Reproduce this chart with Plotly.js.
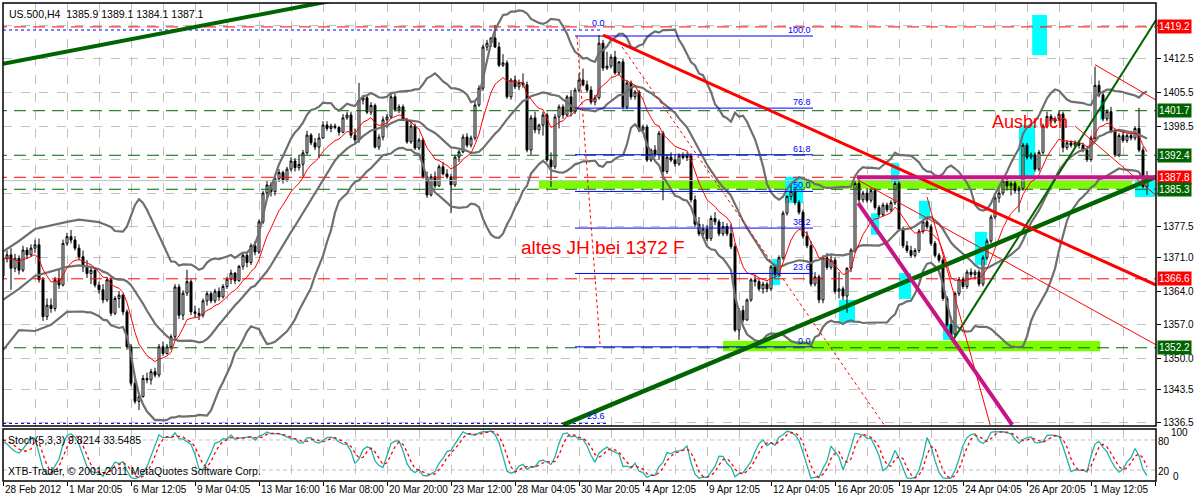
<!DOCTYPE html>
<html><head><meta charset="utf-8">
<script src="https://cdn.plot.ly/plotly-3.0.1.min.js"></script>
<style>html,body{margin:0;padding:0;background:#fff}#chart{width:1194px;height:498px}</style>
</head><body><div id="chart"></div>
<script>
// ---------------- DATA ----------------
const opens=[1367.2,1370.8,1371.6,1368.8,1370.9,1368.4,1372.6,1371.6,1373.0,1373.7,
1366.4,1358.7,1361.1,1360.4,1366.4,1365.3,1374.0,1375.4,1374.7,1373.0,
1371.2,1369.1,1367.7,1368.4,1365.3,1364.3,1362.2,1366.4,1359.4,1362.5,
1363.2,1359.7,1352.4,1344.8,1341.0,1342.0,1345.8,1345.5,1347.2,1346.5,
1352.4,1351.0,1352.4,1354.5,1364.9,1359.0,1363.6,1366.0,1359.7,1359.4,
1359.0,1362.0,1363.5,1362.0,1364.0,1362.8,1365.0,1366.5,1367.8,1366.2,
1369.2,1371.5,1370.0,1373.5,1372.2,1378.5,1384.5,1386.2,1384.8,1387.5,
1388.8,1387.2,1389.5,1391.2,1389.8,1390.5,1392.9,1396.6,1395.0,1394.1,
1396.0,1398.7,1398.0,1398.5,1398.2,1397.2,1400.2,1400.8,1396.6,1395.6,
1403.9,1404.4,1401.4,1402.8,1394.1,1396.2,1399.8,1400.4,1404.6,1401.9,
1402.5,1399.8,1395.2,1398.5,1393.9,1395.6,1387.9,1384.1,1387.9,1386.0,
1390.0,1388.5,1387.9,1386.2,1392.0,1393.1,1396.2,1394.5,1396.0,1402.9,
1406.4,1415.0,1415.8,1416.9,1415.0,1411.2,1411.7,1404.6,1408.1,1406.7,
1407.5,1407.1,1393.5,1400.2,1397.7,1398.7,1400.8,1391.4,1390.0,1400.4,
1402.5,1400.8,1404.6,1401.5,1406.0,1408.1,1407.1,1406.0,1403.5,1404.4,
1415.8,1410.6,1411.0,1412.9,1409.6,1411.9,1402.5,1407.5,1404.6,1405.6,
1397.7,1398.3,1391.4,1393.5,1392.5,1397.0,1389.0,1392.0,1391.4,1390.6,
1392.3,1391.9,1392.3,1383.1,1378.0,1376.0,1377.0,1375.0,1379.2,1378.5,
1376.0,1377.5,1376.0,1373.3,1355.9,1360.0,1358.0,1362.2,1366.4,1366.0,
1364.5,1365.5,1364.5,1369.1,1367.5,1371.0,1380.3,1383.8,1384.8,1382.5,
1380.5,1375.5,1373.5,1365.5,1367.0,1362.2,1371.0,1369.0,1370.5,1364.0,
1364.5,1363.0,1368.8,1372.6,1386.5,1383.1,1384.5,1383.0,1385.0,1381.5,
1380.0,1382.0,1381.0,1382.5,1386.5,1377.0,1373.5,1372.5,1371.5,1372.5,
1376.5,1378.5,1377.5,1374.0,1371.5,1370.5,1362.5,1357.0,1355.0,1363.5,
1366.5,1365.0,1368.0,1367.5,1368.0,1365.5,1371.0,1374.5,1379.5,1383.5,
1384.5,1387.0,1386.0,1386.5,1385.0,1385.5,1394.5,1392.0,1392.5,1389.5,
1393.0,1398.5,1400.5,1399.5,1400.0,1401.0,1394.0,1395.0,1394.5,1395.0,
1394.5,1393.5,1391.5,1396.0,1407.0,1405.0,1400.0,1401.5,1397.5,1392.5,
1396.5,1395.5,1396.5,1396.0,1398.0,1393.5,1385.9];
const highs=[1372.0,1372.5,1373.0,1371.8,1371.5,1373.5,1373.2,1373.8,1374.8,1375.0,
1367.0,1362.5,1362.5,1367.0,1368.5,1374.8,1376.2,1376.8,1375.5,1373.8,
1372.5,1370.5,1369.0,1368.8,1366.0,1365.5,1367.0,1367.0,1363.0,1364.0,
1363.5,1360.2,1353.0,1346.0,1342.8,1346.5,1347.0,1347.8,1348.0,1353.0,
1353.5,1353.0,1355.0,1365.5,1365.5,1364.2,1368.5,1366.5,1361.0,1360.5,
1362.5,1364.0,1364.0,1364.5,1364.8,1365.5,1367.0,1368.5,1368.0,1369.5,
1372.0,1372.0,1374.0,1374.5,1379.0,1385.0,1387.0,1386.8,1388.0,1389.5,
1389.2,1390.0,1392.0,1391.8,1392.5,1393.5,1397.5,1397.0,1396.0,1397.0,
1399.5,1399.5,1399.0,1399.0,1398.5,1401.0,1401.5,1401.5,1398.0,1407.5,
1405.0,1404.8,1403.5,1403.2,1396.8,1400.5,1401.0,1405.5,1405.2,1403.0,
1403.0,1400.2,1399.8,1399.0,1396.0,1396.0,1389.0,1388.5,1389.0,1390.5,
1391.0,1389.5,1388.5,1392.5,1393.5,1396.8,1397.0,1396.5,1403.5,1407.0,
1415.5,1416.5,1417.0,1419.6,1416.0,1413.5,1412.2,1408.5,1409.0,1408.2,
1409.5,1407.8,1400.8,1401.5,1399.0,1401.5,1401.2,1393.0,1401.0,1403.0,
1403.0,1405.0,1406.0,1406.5,1409.5,1410.5,1408.0,1406.8,1405.0,1417.5,
1416.5,1414.0,1413.5,1414.2,1412.0,1412.5,1408.0,1408.0,1406.0,1406.0,
1398.8,1398.8,1393.8,1394.5,1397.5,1397.5,1392.5,1393.0,1392.5,1392.8,
1393.0,1393.0,1392.8,1384.0,1379.5,1378.0,1377.8,1379.8,1380.5,1379.0,
1378.5,1378.2,1378.0,1374.0,1360.5,1361.0,1362.5,1366.8,1367.5,1366.5,
1366.0,1366.0,1369.5,1369.5,1371.5,1380.8,1384.0,1386.5,1385.5,1383.0,
1381.0,1376.5,1374.5,1368.0,1367.5,1371.5,1372.0,1371.5,1371.0,1368.0,
1365.0,1369.0,1373.0,1387.0,1387.8,1385.0,1385.5,1385.5,1385.5,1382.0,
1382.5,1382.5,1383.0,1387.0,1387.0,1377.5,1374.5,1373.5,1373.0,1377.0,
1379.0,1379.5,1378.0,1374.5,1372.0,1371.0,1363.0,1358.7,1364.0,1367.0,
1367.0,1368.5,1368.8,1368.5,1368.5,1371.5,1375.0,1380.0,1384.0,1385.5,
1387.5,1387.5,1387.0,1387.0,1386.0,1395.0,1395.0,1393.0,1393.0,1393.5,
1399.0,1401.5,1401.0,1400.5,1401.8,1401.5,1395.5,1395.5,1395.5,1395.5,
1395.0,1394.0,1396.5,1410.9,1408.0,1405.5,1402.0,1402.5,1398.0,1397.0,
1397.5,1397.0,1397.5,1398.5,1402.3,1394.2,1389.1];
const lows=[1366.4,1370.0,1364.3,1368.0,1367.5,1368.0,1370.8,1371.2,1372.0,1365.8,
1357.8,1358.0,1359.5,1359.8,1364.5,1365.0,1373.5,1374.0,1372.5,1370.5,
1368.0,1366.8,1365.5,1364.8,1363.5,1361.5,1361.8,1358.8,1359.0,1360.5,
1359.0,1351.8,1344.2,1340.5,1339.2,1341.8,1344.8,1344.5,1346.0,1346.0,
1350.5,1350.8,1351.8,1354.0,1358.2,1358.0,1363.0,1359.0,1358.5,1358.0,
1358.5,1361.0,1361.5,1361.5,1362.0,1362.5,1364.5,1365.5,1365.5,1366.0,
1368.5,1369.0,1369.5,1371.5,1371.8,1378.0,1383.5,1383.8,1384.0,1386.8,
1386.5,1386.8,1389.0,1389.0,1389.2,1388.0,1392.5,1394.5,1393.5,1391.8,
1395.8,1397.5,1397.2,1397.8,1396.5,1397.0,1399.8,1396.0,1394.8,1395.0,
1403.0,1401.0,1400.8,1393.8,1393.5,1395.5,1398.0,1400.0,1401.5,1401.2,
1399.5,1394.8,1394.8,1393.5,1393.5,1387.5,1383.5,1383.8,1385.5,1385.8,
1388.2,1387.5,1380.3,1385.8,1391.0,1392.8,1394.0,1394.0,1395.5,1402.5,
1405.8,1414.2,1415.0,1414.8,1410.8,1410.8,1404.2,1404.0,1406.2,1406.0,
1406.5,1393.0,1392.5,1397.0,1396.8,1396.5,1391.0,1385.8,1389.5,1398.0,
1400.0,1400.5,1400.5,1401.0,1405.5,1406.8,1405.5,1403.0,1402.8,1404.0,
1410.0,1410.2,1410.5,1409.2,1409.0,1402.0,1402.0,1404.0,1404.0,1397.2,
1397.0,1391.0,1391.0,1392.0,1391.5,1383.0,1388.5,1391.0,1390.0,1390.2,
1391.5,1391.2,1382.5,1377.5,1375.5,1375.0,1374.5,1374.5,1377.8,1375.5,
1375.5,1375.5,1372.8,1355.5,1353.8,1357.5,1357.8,1361.8,1365.0,1364.0,
1363.5,1363.8,1364.0,1367.0,1367.0,1370.5,1379.8,1383.0,1382.0,1380.0,
1375.0,1373.0,1365.0,1365.0,1361.5,1361.5,1368.5,1368.5,1363.5,1362.5,
1362.2,1359.5,1368.0,1372.0,1382.5,1382.5,1382.5,1382.5,1381.0,1379.5,
1379.5,1380.5,1380.5,1382.0,1376.5,1373.0,1372.0,1371.0,1371.0,1372.0,
1376.0,1377.0,1373.5,1371.0,1370.0,1362.0,1356.5,1353.8,1354.5,1363.0,
1364.5,1364.5,1366.8,1366.5,1365.0,1365.0,1370.5,1374.0,1379.0,1382.5,
1384.0,1385.0,1384.0,1384.5,1380.5,1385.0,1391.5,1391.5,1389.0,1389.0,
1392.5,1398.0,1399.0,1399.0,1399.5,1393.0,1393.5,1394.0,1394.0,1393.8,
1393.0,1391.0,1391.0,1395.5,1404.5,1399.5,1399.5,1397.0,1392.0,1392.0,
1395.0,1395.0,1395.5,1395.5,1393.0,1385.5,1384.1];
const closes=[1370.8,1371.6,1368.8,1370.9,1368.4,1372.6,1371.6,1373.0,1373.7,1366.4,
1358.7,1361.1,1360.4,1366.4,1365.3,1374.0,1375.4,1374.7,1373.0,1371.2,
1369.1,1367.7,1368.4,1365.3,1364.3,1362.2,1366.4,1359.4,1362.5,1363.2,
1359.7,1352.4,1344.8,1341.0,1342.0,1345.8,1345.5,1347.2,1346.5,1352.4,
1351.0,1352.4,1354.5,1364.9,1359.0,1363.6,1366.0,1359.7,1359.4,1359.0,
1362.0,1363.5,1362.0,1364.0,1362.8,1365.0,1366.5,1367.8,1366.2,1369.2,
1371.5,1370.0,1373.5,1372.2,1378.5,1384.5,1386.2,1384.8,1387.5,1388.8,
1387.2,1389.5,1391.2,1389.8,1390.5,1392.9,1396.6,1395.0,1394.1,1396.0,
1398.7,1398.0,1398.5,1398.2,1397.2,1400.2,1400.8,1396.6,1395.6,1403.9,
1404.4,1401.4,1402.8,1394.1,1396.2,1399.8,1400.4,1404.6,1401.9,1402.5,
1399.8,1395.2,1398.5,1393.9,1395.6,1387.9,1384.1,1387.9,1386.0,1390.0,
1388.5,1387.9,1386.2,1392.0,1393.1,1396.2,1394.5,1396.0,1402.9,1406.4,
1415.0,1415.8,1416.9,1415.0,1411.2,1411.7,1404.6,1408.1,1406.7,1407.5,
1407.1,1393.5,1400.2,1397.7,1398.7,1400.8,1391.4,1390.0,1400.4,1402.5,
1400.8,1404.6,1401.5,1406.0,1408.1,1407.1,1406.0,1403.5,1404.4,1415.8,
1410.6,1411.0,1412.9,1409.6,1411.9,1402.5,1407.5,1404.6,1405.6,1397.7,
1398.3,1391.4,1393.5,1392.5,1397.0,1389.0,1392.0,1391.4,1390.6,1392.3,
1391.9,1392.3,1383.1,1378.0,1376.0,1377.0,1375.0,1379.2,1378.5,1376.0,
1377.5,1376.0,1373.3,1355.9,1360.0,1358.0,1362.2,1366.4,1366.0,1364.5,
1365.5,1364.5,1369.1,1367.5,1371.0,1380.3,1383.8,1384.8,1382.5,1380.5,
1375.5,1373.5,1365.5,1367.0,1362.2,1371.0,1369.0,1370.5,1364.0,1364.5,
1363.0,1368.8,1372.6,1386.5,1383.1,1384.5,1383.0,1385.0,1381.5,1380.0,
1382.0,1381.0,1382.5,1386.5,1377.0,1373.5,1372.5,1371.5,1372.5,1376.5,
1378.5,1377.5,1374.0,1371.5,1370.5,1362.5,1357.0,1355.0,1363.5,1366.5,
1365.0,1368.0,1367.5,1368.0,1365.5,1371.0,1374.5,1379.5,1383.5,1384.5,
1387.0,1386.0,1386.5,1385.0,1385.5,1394.5,1392.0,1392.5,1389.5,1393.0,
1398.5,1400.5,1399.5,1400.0,1401.0,1394.0,1395.0,1394.5,1395.0,1394.5,
1393.5,1391.5,1396.0,1407.0,1405.0,1400.0,1401.5,1397.5,1392.5,1396.5,
1395.5,1396.5,1396.0,1398.0,1393.5,1385.9,1387.1];

// indicator values at the left edge (before enough history)
const earlyBars=[0,4,8,12,16];
const earlyUpper=[1372.3,1374.5,1377.0,1377.8,1378.5];
const earlyMiddle=[1362.2,1364.5,1367.2,1368.2,1369.1];
const earlyLower=[1351.7,1355.9,1355.7,1357.0,1359.7];
const earlyStochBars=[0,1,2,3,4,5];
const earlyStochK=[77,72,64,57,54,62];
const earlyStochDBars=[0,1,2,3,4,5,6,7];
const earlyStochD=[80,78,74,68,62,58,58,62];

const dateLabels=["28 Feb 2012","1 Mar 20:05","6 Mar 12:05","9 Mar 04:05","13 Mar 16:00","16 Mar 08:00",
"20 Mar 20:00","23 Mar 12:00","28 Mar 04:05","30 Mar 20:05","4 Apr 12:05","9 Apr 12:05","12 Apr 04:05",
"16 Apr 20:05","19 Apr 12:05","24 Apr 04:05","26 Apr 20:05","1 May 12:05"];
const priceTicks=[1419.5,1412.5,1405.5,1398.5,1391.5,1384.5,1377.5,1371.0,1364.0,1357.0,1350.0,1343.5,1336.5];
const hiddenTicks=[1419.5,1391.5,1384.5];   // covered by the level boxes in the picture
const stochTicks=[0,20,80,100];
const stochTickLabels=["0","20","80","100"];

// horizontal levels
const levelPrices=[1419.2,1401.7,1392.4,1387.8,1385.3,1366.6,1352.2];
const levelKinds=["r","g","g","r","g","r","g"];

// fibonacci
const fibRatios=[0,23.6,38.2,50.0,61.8,76.8,100];
const fibLabels=["0.0","23.6","38.2","50.0","61.8","76.8","100.0"];
const fibLow=1352.4, fibHigh=1417.3, fibFrom=143, fibTo=202.5;

// trend lines [x0,y0,x1,y1] (bar index, price)
const greenThick1=[0,1411.5,85,1425.1];
const greenThick2=[140,1336.1,288.3,1387.9];
const greenThin=[237.5,1353.8,288.3,1420.7];
const redThick=[150,1417.5,288.3,1365.3];
const redThin1=[213.8,1387.2,288.3,1352.8];
const redThin2=[231,1383.7,246.8,1336.1];
const redThin3=[273,1411.3,288.3,1403.9];
const redThin4=[268,1398.5,288.3,1384.0];
const redDot1=[143.5,1417.3,149.3,1352.4];
const redDot2=[154.8,1415.0,220.3,1336.1];
const magentaFlat=[213.5,1387.8,288.3,1387.8];
const magentaDiag=[213.8,1382.4,252.3,1336.1];
const blueDotTop=[0,1418.55,150,1418.55];
const blueDotBottom=[0,1336.4,151,1336.4];

// rectangles [x0,x1,y0,y1]
const greenRects=[[134,282.3,1385.4,1387.2],[180,274.3,1351.5,1353.6]];
const cyanRects=[[257.3,261,1413.3,1421.7],[195.5,200,1382.4,1387.9],[192.3,194.3,1365.3,1370.7],
[209,213,1357.4,1362.2],[222,224,1386.6,1390.8],[217,219,1375.8,1380.3],[224,227,1362.4,1367.8],
[229,231.8,1379.1,1382.9],[235,237.5,1353.8,1357.2],[243,246,1369.5,1376.4],[254,258,1387.9,1398.7],
[274.3,275.2,1399.8,1403.9],[283,288,1383.7,1387.2]];

// ---------------- build ----------------
const N=closes.length;
const xs=closes.map((_,i)=>i);
// Bollinger(20,2), MA and Stochastic(5,3,3) computed from the OHLC above
const bbU=[],bbM=[],bbL=[];
for(let i=0;i<N;i++){
  if(i<19){bbU.push(null);bbM.push(null);bbL.push(null);continue;}
  const w=closes.slice(i-19,i+1);const m=w.reduce((a,b)=>a+b,0)/20;
  const sd=Math.sqrt(w.reduce((a,b)=>a+(b-m)*(b-m),0)/20);
  bbU.push(m+2*sd);bbM.push(m);bbL.push(m-2*sd);
}
const ma=[];{let e=closes[0];const k=2/11;for(let i=0;i<N;i++){e=i?closes[i]*k+e*(1-k):e;ma.push(e);}}
const raw=[];
for(let i=0;i<N;i++){ if(i<4){raw.push(null);continue;}
  let hh=-1e9,ll=1e9;for(let j=i-4;j<=i;j++){hh=Math.max(hh,highs[j]);ll=Math.min(ll,lows[j]);}
  raw.push([closes[i]-ll,hh-ll]);}
const stK=[];for(let i=0;i<N;i++){ if(i<6){stK.push(null);continue;}
  let a=0,b=0;for(let j=i-2;j<=i;j++){a+=raw[j][0];b+=raw[j][1];} stK.push(b?100*a/b:50);}
const stD=[];for(let i=0;i<N;i++){ if(i<8){stD.push(null);continue;} stD.push((stK[i]+stK[i-1]+stK[i-2])/3);}

const RED='#ff0000', DG='#006400', GRAY='#6f6f6f';
const traces=[];
function seg(p,color,width,dash){traces.push({type:'scatter',mode:'lines',x:[p[0],p[2]],y:[p[1],p[3]],
  line:{color:color,width:width,dash:dash||'solid'},hoverinfo:'skip',showlegend:false,xaxis:'x',yaxis:'y'});}
function line(x,y,color,width,dash,ax){traces.push({type:'scatter',mode:'lines',x:x,y:y,
  line:{color:color,width:width,dash:dash||'solid'},hoverinfo:'skip',showlegend:false,xaxis:'x',yaxis:ax||'y'});}

levelPrices.forEach((p,k)=>seg([-2,p,292,p],levelKinds[k]==='r'?RED:DG,1,'12px,7px'));
seg([-2,closes[N-1],292,closes[N-1]],'#c0c0c0',1);

traces.push({type:'candlestick',x:xs,open:opens,high:highs,low:lows,close:closes,
  increasing:{line:{color:'#000',width:1},fillcolor:'#ffffff'},
  decreasing:{line:{color:'#000',width:1},fillcolor:'#000000'},
  whiskerwidth:0,hoverinfo:'skip',showlegend:false,xaxis:'x',yaxis:'y'});
[[earlyUpper,bbU],[earlyMiddle,bbM],[earlyLower,bbL]].forEach(([e,s])=>{
  line(earlyBars.concat(xs.slice(19)),e.concat(s.slice(19)),GRAY,2.2);
});
line(xs,ma,RED,1);

fibRatios.forEach(r=>{const p=fibLow+(fibHigh-fibLow)*r/100;seg([fibFrom,p,fibTo,p],'#0000ff',1);});
seg(blueDotTop,'#0000ff',1,'dot');
seg(blueDotBottom,'#0000ff',1,'dot');
seg(redDot1,RED,1,'dot');
seg(redDot2,RED,1,'dot');
seg(greenThick1,DG,4);
seg(greenThick2,DG,4.5);
seg(greenThin,DG,2);
seg(redThick,RED,3);
seg(redThin1,RED,1);
seg(redThin2,RED,1);
seg(redThin3,RED,1);
seg(redThin4,RED,1);
seg(magentaFlat,'#c71585',4);
seg(magentaDiag,'#c71585',4);

line(earlyStochBars.concat(xs.slice(6)),earlyStochK.concat(stK.slice(6)),'#20b2aa',1.3,'solid','y2');
line(earlyStochDBars.concat(xs.slice(8)),earlyStochD.concat(stD.slice(8)),RED,1.3,'dot','y2');

const shapes=[];
greenRects.forEach(r=>shapes.push({type:'rect',xref:'x',yref:'y',x0:r[0],x1:r[1],y0:r[2],y1:r[3],fillcolor:'#7cfc00',line:{width:0},layer:'between'}));
cyanRects.forEach(r=>shapes.push({type:'rect',xref:'x',yref:'y',x0:r[0],x1:r[1],y0:r[2],y1:r[3],fillcolor:'#00ffff',line:{width:0},layer:'between'}));
[20,80].forEach(v=>shapes.push({type:'line',xref:'paper',yref:'y2',x0:0,x1:1,y0:v,y1:v,line:{color:'#c0c0c0',width:1,dash:'4px,3px'},layer:'between'}));
const MAIN_BOTTOM=0.1151, ST_TOP=0.1088;
shapes.push({type:'rect',xref:'paper',yref:'paper',x0:0,x1:1,y0:MAIN_BOTTOM,y1:1,line:{color:'#000',width:1.5},fillcolor:'rgba(0,0,0,0)'});
shapes.push({type:'rect',xref:'paper',yref:'paper',x0:0,x1:1,y0:0,y1:ST_TOP,line:{color:'#000',width:1.5},fillcolor:'rgba(0,0,0,0)'});

const F='Liberation Sans, Arial, sans-serif';
const ann=[];
dateLabels.forEach((t,k)=>ann.push({xref:'x',yref:'paper',x:16*k,y:0,yanchor:'top',xanchor:'left',yshift:-1,xshift:0,
  text:t,showarrow:false,font:{family:F,size:10,color:'#000'}}));
levelPrices.forEach((p,k)=>ann.push({xref:'paper',yref:'y',x:1,xanchor:'left',xshift:1,y:p,yanchor:'middle',
  text:p.toFixed(1),showarrow:false,bgcolor:levelKinds[k]==='r'?RED:DG,borderpad:1,font:{family:F,size:10,color:'#fff'}}));
// stochastic scale labels: 80/20 at the left of the scale, 100/0 set a little to the right so they stay legible
const stochShift=[4,-1,-2,-3], stochX=[16,1,1,14];
stochTicks.forEach((v,k)=>ann.push({xref:'paper',yref:'y2',x:1,xanchor:'left',xshift:stochX[k],y:v,yanchor:'middle',yshift:stochShift[k],
  text:stochTickLabels[k],showarrow:false,borderpad:0,font:{family:F,size:10,color:'#000'}}));
fibRatios.forEach((r,k)=>{const p=fibLow+(fibHigh-fibLow)*r/100;
  ann.push({xref:'x',yref:'y',x:fibTo,y:p,xanchor:'right',yanchor:'bottom',yshift:-1,text:fibLabels[k],showarrow:false,
  font:{family:F,size:9,color:'#0000ff'}});});
ann.push({xref:'x',yref:'y',x:blueDotTop[2]+1,y:blueDotTop[1],xanchor:'right',yanchor:'bottom',text:'0.0',showarrow:false,font:{family:F,size:9,color:'#0000ff'}});
ann.push({xref:'x',yref:'y',x:blueDotBottom[2],y:blueDotBottom[1],xanchor:'right',yanchor:'bottom',text:'23.6',showarrow:false,font:{family:F,size:9,color:'#0000ff'}});
ann.push({xref:'paper',yref:'paper',x:0,y:1,xanchor:'left',yanchor:'top',xshift:4,yshift:-3,text:'US.500,H4  1385.9 1389.1 1384.1 1387.1',showarrow:false,font:{family:F,size:10.5,color:'#000'}});
ann.push({xref:'paper',yref:'paper',x:0,y:ST_TOP,xanchor:'left',yanchor:'top',xshift:3,yshift:-3,text:'Stoch(5,3,3) 9.8214 33.5485',showarrow:false,font:{family:F,size:10.5,color:'#000'}});
ann.push({xref:'paper',yref:'paper',x:0,y:0,xanchor:'left',yanchor:'bottom',xshift:3,yshift:2,text:'XTB-Trader, © 2001-2011 MetaQuotes Software Corp.',showarrow:false,font:{family:F,size:10.5,color:'#000'}});
ann.push({xref:'x',yref:'y',x:129,y:1373.2,xanchor:'left',yanchor:'middle',text:'altes JH bei 1372 F',showarrow:false,font:{family:F,size:19,color:RED}});
ann.push({xref:'x',yref:'y',x:246.8,y:1399.3,xanchor:'left',yanchor:'middle',text:'Ausbruch',showarrow:false,font:{family:F,size:18,color:RED}});

const layout={
  width:1194,height:498,margin:{l:3,r:38,t:3,b:17},paper_bgcolor:'#fff',plot_bgcolor:'#fff',showlegend:false,
  xaxis:{range:[0,288.25],anchor:'y2',tickmode:'linear',tick0:0,dtick:16,ticks:'outside',ticklen:4,tickcolor:'#000',
    showticklabels:false,showgrid:true,gridcolor:'#c0c0c0',griddash:'dash',zeroline:false,showline:false,
    minor:{tick0:0,dtick:8,showgrid:true,gridcolor:'#c0c0c0',griddash:'dash',ticks:''},rangeslider:{visible:false},fixedrange:true},
  yaxis:{domain:[MAIN_BOTTOM,1],range:[1335.87,1424.19],side:'right',tickmode:'array',tickvals:priceTicks,
    ticktext:priceTicks.map(v=>hiddenTicks.includes(v)?'':v.toFixed(1)),ticks:'outside',ticklen:4,tickcolor:'#000',
    tickfont:{family:F,size:10,color:'#000'},showgrid:true,gridcolor:'#c0c0c0',griddash:'dash',zeroline:false,fixedrange:true},
  yaxis2:{domain:[0,ST_TOP],range:[-2,102],side:'right',tickmode:'array',tickvals:stochTicks,ticks:'',
    showticklabels:false,showgrid:false,zeroline:false,fixedrange:true},
  shapes:shapes,annotations:ann
};
Plotly.newPlot('chart',traces,layout,{staticPlot:true,displayModeBar:false});
</script></body></html>
